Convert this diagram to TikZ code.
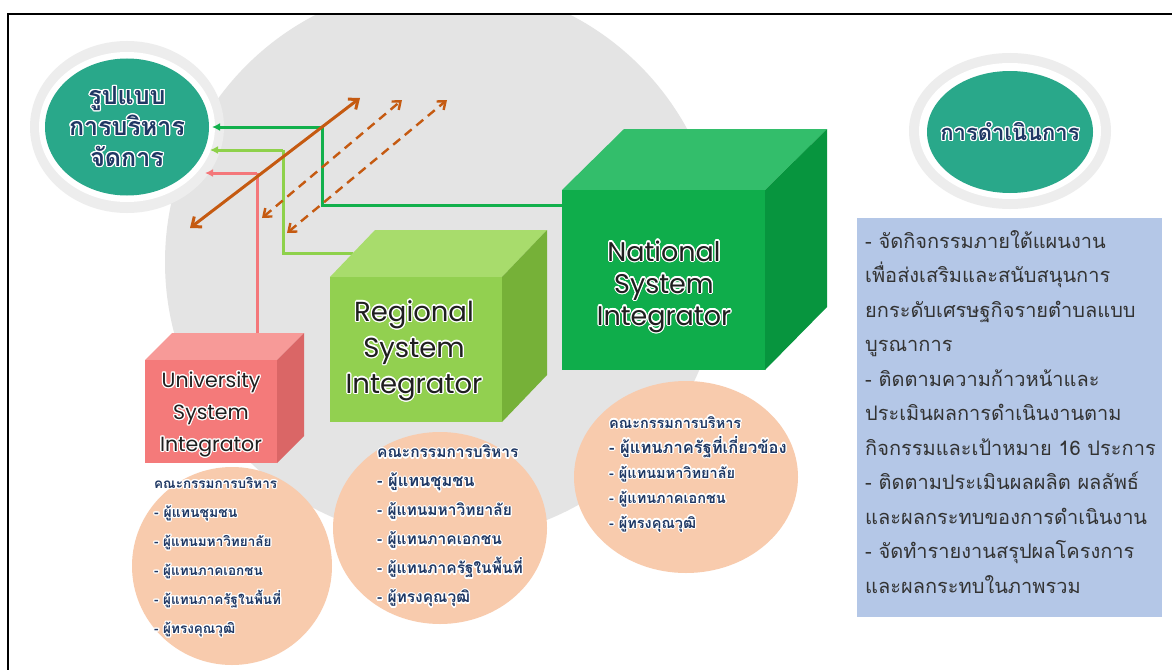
\documentclass[tikz,border=0pt]{standalone}
\usepackage{fontspec}
\usepackage{contour}
\usetikzlibrary{arrows.meta,shapes.geometric}
\newfontfamily\thaifont[Script=Thai]{Loma}
\newfontfamily\cubefont{Poppins}
\contourlength{1.2pt}
\newcommand\wo[1]{\contour{white}{#1}}
\definecolor{diskgray}{HTML}{E4E4E4}
\definecolor{tealc}{HTML}{29A88A}
\definecolor{navy}{HTML}{1F3864}
\definecolor{peach}{HTML}{F8CBAD}
\definecolor{boxblue}{HTML}{B4C7E7}
\definecolor{natF}{HTML}{0FAD4B}
\definecolor{natT}{HTML}{33BE6B}
\definecolor{natR}{HTML}{07953E}
\definecolor{regF}{HTML}{92D050}
\definecolor{regT}{HTML}{A8DC6C}
\definecolor{regR}{HTML}{76B138}
\definecolor{uniF}{HTML}{F47A7A}
\definecolor{uniT}{HTML}{F79A98}
\definecolor{uniR}{HTML}{DA6666}
\definecolor{orangeA}{HTML}{C55A11}
\definecolor{haloc}{HTML}{EDEDED}
\definecolor{lnRed}{HTML}{F4777A}
\definecolor{lnLight}{HTML}{8ED14B}
\definecolor{lnDark}{HTML}{12B04C}
\tikzset{
  cubelbl/.style={align=center, text=black!88, inner sep=0},
  thaititle/.style={font=\thaifont\bfseries\fontsize{22}{31}\selectfont, align=center, text=navy, inner sep=0},
  committee/.style={align=left, text=navy, inner sep=0, anchor=north west},
  boxtext/.style={font=\thaifont\fontsize{20}{34.5}\selectfont, align=left, text=black!80, inner sep=0, anchor=north west},
  conn/.style={line width=3pt, -{Latex[length=8pt,width=8pt]}},
  orarrow/.style={draw=orangeA, line width=3pt, {Straight Barb[length=8pt,width=13pt]}-{Straight Barb[length=8pt,width=13pt]}},
  ordash/.style={draw=orangeA, line width=2.4pt, dash pattern=on 9pt off 6pt, {Straight Barb[length=7pt,width=11pt]}-{Straight Barb[length=7pt,width=11pt]}},
  tealell/.style={ellipse, fill=tealc, inner sep=0},
  peachell/.style={ellipse, fill=peach, inner sep=0},
}
\newcommand\cfont[2]{\thaifont\bfseries\fontsize{#1}{#2}\selectfont}
\begin{document}
\begin{tikzpicture}[x=1pt,y=-1pt]
\useasboundingbox (0,0) rectangle (1172,669);
\fill[white] (0,0) rectangle (1172,669);
% big gray disk
\begin{scope}
  \clip (9,15) rectangle (1172,669);
  \fill[diskgray] (443,262) circle (278);
\end{scope}
% frame
\draw[line width=2.2pt] (8,700) -- (8,14) -- (1200,14);

% connector coordinates
\coordinate (uTop) at (257,333);
\coordinate (rTop) at (353,253);
\coordinate (nLeft) at (562,205);
\coordinate (redTip) at (205,173);
\coordinate (lgTip) at (210,150);
\coordinate (dgTip) at (212,127);
\coordinate (redBend) at (257,173);
\coordinate (lgBend1) at (283,253);
\coordinate (lgBend2) at (283,150);
\coordinate (dgBend1) at (322,205);
\coordinate (dgBend2) at (322,127);

% connector lines (under the cubes)
\draw[line width=3pt, lnRed] (uTop) -- (redBend);
\draw[line width=3pt, lnLight] (rTop) -- (lgBend1) -- (lgBend2);
\draw[line width=3pt, lnDark] (nLeft) -- (dgBend1) -- (dgBend2);

% University cube
\fill[uniT] (145,360) -- (172,333) -- (304,333) -- (277,360) -- cycle;
\fill[uniR] (277,360) -- (304,333) -- (304,436) -- (277,463) -- cycle;
\fill[uniF] (145,360) rectangle (277,463);
\node[cubelbl, font=\cubefont\fontsize{20.5}{32}\selectfont] (uni) at (211,415) {\wo{University}\\\wo{System}\\\wo{Integrator}};

% Regional cube
\fill[regT] (330,277) -- (375,230) -- (547,230) -- (502,277) -- cycle;
\fill[regR] (502,277) -- (547,230) -- (547,375) -- (502,422) -- cycle;
\fill[regF] (330,277) rectangle (502,422);
\node[cubelbl, font=\cubefont\fontsize{27.5}{36}\selectfont] (reg) at (414,351) {\wo{Regional}\\\wo{System}\\\wo{Integrator}};

% National cube
\fill[natT] (562,190) -- (624,129) -- (827,129) -- (765,190) -- cycle;
\fill[natR] (765,190) -- (827,129) -- (827,307) -- (765,370) -- cycle;
\fill[natF] (562,190) rectangle (765,370);
\node[cubelbl, font=\cubefont\fontsize{27}{32}\selectfont] (nat) at (664,287) {\wo{National}\\\wo{System}\\\wo{Integrator}};

% peach committee circles
\node[peachell, minimum width=200pt, minimum height=198pt] (uC) at (232,566) {};
\node[peachell, minimum width=214pt, minimum height=192pt] (rC) at (440,528) {};
\node[peachell, minimum width=224pt, minimum height=192pt] (nC) at (686,477) {};

\node[committee, font=\cfont{13.5}{29}] (uCt) at (154,477) {\wo{คณะกรรมการบริหาร}\\\cfont{14}{29}\wo{- ผู้แทนชุมชน}\\\wo{- ผู้แทนมหาวิทยาลัย}\\\wo{- ผู้แทนภาคเอกชน}\\\wo{- ผู้แทนภาครัฐในพื้นที่}\\\wo{- ผู้ทรงคุณวุฒิ}};
\node[committee, font=\cfont{15.5}{29}] (rCt) at (377,445) {\wo{คณะกรรมการบริหาร}\\\cfont{16.4}{29}\wo{- ผู้แทนชุมชน}\\\wo{- ผู้แทนมหาวิทยาลัย}\\\wo{- ผู้แทนภาคเอกชน}\\\wo{- ผู้แทนภาครัฐในพื้นที่}\\\wo{- ผู้ทรงคุณวุฒิ}};
\node[committee, font=\cfont{14.5}{25}] (nCt) at (609,416) {\wo{คณะกรรมการบริหาร}\\\cfont{16.5}{25}\wo{- ผู้แทนภาครัฐที่เกี่ยวข้อง}\\\wo{- ผู้แทนมหาวิทยาลัย}\\\wo{- ผู้แทนภาคเอกชน}\\\wo{- ผู้ทรงคุณวุฒิ}};

% left teal title circle
\fill[haloc] (127,127) ellipse [x radius=97, y radius=86];
\fill[white] (127,127) ellipse [x radius=88, y radius=75];
\node[tealell, minimum width=164pt, minimum height=137pt] (model) at (127,127) {};
\node[thaititle, font=\thaifont\bfseries\fontsize{25}{31}\selectfont] (modelT) at (model) {\wo{รูปแบบ}\\\wo{การบริหาร}\\\wo{จัดการ}};

% right teal title circle
\fill[haloc] (1010,131) ellipse [x radius=101, y radius=78];
\fill[white] (1010,131) ellipse [x radius=91, y radius=68];
\node[tealell, minimum width=166pt, minimum height=122pt] (ops) at (1010,132) {};
\node[thaititle] (opsT) at (ops) {\wo{การดำเนินการ}};

% arrow heads of connectors
\draw[conn, lnRed] (redBend) -- (redTip);
\draw[conn, lnLight] (lgBend2) -- (lgTip);
\draw[conn, lnDark] (dgBend2) -- (dgTip);

% orange arrows
\coordinate (o1a) at (190,228); \coordinate (o1b) at (360,98);
\coordinate (o2a) at (262,218); \coordinate (o2b) at (402,100);
\coordinate (o3a) at (287,233); \coordinate (o3b) at (447,100);
\draw[ordash] (o2a) -- (o2b);
\draw[ordash] (o3a) -- (o3b);
\draw[orarrow] (o1a) -- (o1b);

% blue activity box
\node[fill=boxblue, minimum width=305pt, minimum height=399pt, anchor=north west, inner sep=0] (box) at (857,218) {};
\node[boxtext] (boxT) at (865,230) {- จัดกิจกรรมภายใต้แผนงาน\\เพื่อส่งเสริมและสนับสนุนการ\\ยกระดับเศรษฐกิจรายตำบลแบบ\\บูรณาการ\\- ติดตามความก้าวหน้าและ\\ประเมินผลการดำเนินงานตาม\\กิจกรรมและเป้าหมาย 16 ประการ\\- ติดตามประเมินผลผลิต ผลลัพธ์\\และผลกระทบของการดำเนินงาน\\- จัดทำรายงานสรุปผลโครงการ\\และผลกระทบในภาพรวม};
\end{tikzpicture}
\end{document}
